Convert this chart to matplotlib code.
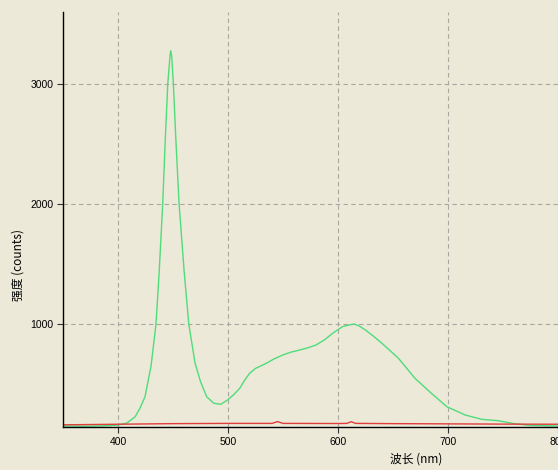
import matplotlib.pyplot as plt

plt.rcParams['font.family'] = ['Liberation Sans', 'Noto Sans CJK SC', 'DejaVu Sans']

# green spectrum (wavelength nm, counts)
green_wl = [350, 370, 390, 400, 408, 415.5, 420, 424.5, 430, 434.5, 437.5, 440.6, 443, 445.2,
            447.2, 447.9, 448.8, 450.3, 452.5, 455.5, 460, 464.3, 470, 475, 480.6, 487, 493.5, 500,
            505, 510.6, 515, 519.6, 525, 534.6, 541, 549.7, 557, 564.8, 572, 579.9, 588, 595,
            604, 609, 614.7, 619, 625, 632, 640, 655, 670, 685, 699, 715.6, 730.7, 745.8,
            760, 775, 800]
green_ct = [150, 148, 152, 158, 175, 227, 300, 394, 650, 1000, 1450, 2000, 2550, 3000,
            3230, 3277, 3230, 3000, 2550, 2000, 1450, 1000, 675, 520, 394, 340, 331, 370,
            410, 464, 530, 589, 630, 672, 705, 742, 765, 783, 800, 825, 870, 922,
            978, 990, 1000, 985, 950, 900, 839, 714, 547, 422, 311, 242, 206, 194,
            170, 155, 150]

# red spectrum
red_wl = [350, 400, 450, 500, 540, 545, 550, 600, 608, 612, 616, 650, 700, 750, 800]
red_ct = [160, 165, 170, 172, 172, 187, 172, 171, 172, 186, 172, 170, 168, 166, 165]

xticks = [400, 500, 600, 700, 800]
yticks = [1000, 2000, 3000]

bg = '#ece9d8'
fig = plt.figure(figsize=(5.58, 4.70), dpi=100, facecolor=bg)
ax = fig.add_axes([0.113, 0.0915, 0.887, 0.883], facecolor=bg)

ax.plot(green_wl, green_ct, color='#4fdc7a', lw=1.0)
ax.plot(red_wl, red_ct, color='#e03c3c', lw=1.0)

ax.set_xlim(350, 800)
ax.set_ylim(142, 3600)
ax.set_xticks(xticks)
ax.set_yticks(yticks)
ax.tick_params(labelsize=7.5, length=4, width=0.8, color='#333333', pad=3)

ax.grid(True, color='#a8a8a0', linestyle=(0, (4, 3)), linewidth=0.8)

for s in ['top', 'right']:
    ax.spines[s].set_visible(False)
for s in ['left', 'bottom']:
    ax.spines[s].set_linewidth(1.0)

fig.text(0.745, 0.024, '波长 (nm)', fontsize=8.5, ha='center', va='center',
         family=['Noto Sans CJK SC', 'DejaVu Sans'])
fig.text(0.032, 0.436, '强度 (counts)', fontsize=8.5, ha='center', va='center',
         rotation=90, family=['Noto Sans CJK SC', 'DejaVu Sans'])

fig.savefig('out.png', dpi=100, facecolor=bg)
